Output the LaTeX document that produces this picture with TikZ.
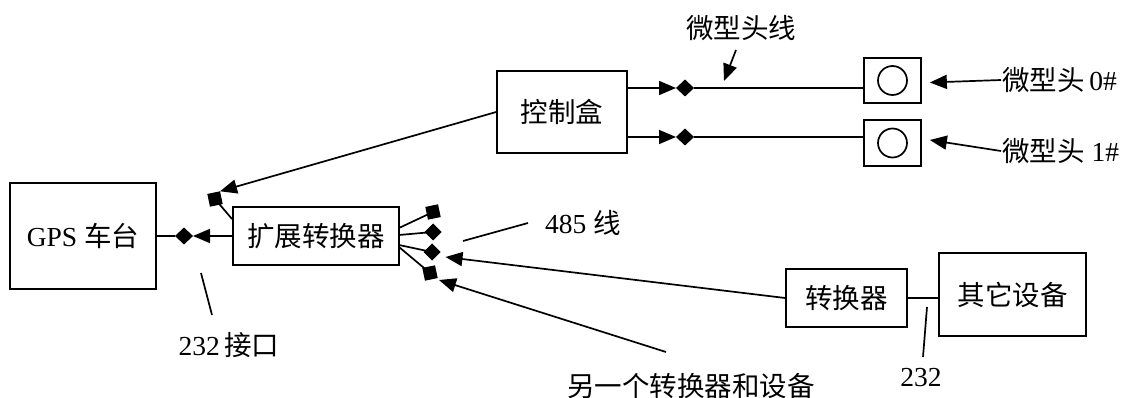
\documentclass[tikz,border=0pt]{standalone}
\usepackage{fontspec}
\setmainfont{Liberation Serif}
\newfontfamily\cjk{Noto Sans CJK SC}
\usetikzlibrary{shapes.geometric,arrows.meta,calc}

\begin{document}
\begin{tikzpicture}[x=1pt,y=-1pt,
  every node/.style={font=\fontsize{27.5}{32}\selectfont},
  box/.style={draw,line width=1.7pt,inner sep=0pt},
  ln/.style={line width=1.7pt},
  arr/.style={ln,-{Triangle[length=17pt,width=14pt]}},
  dmd/.style={diamond,fill,draw,line width=1pt,inner sep=0pt,minimum width=17pt,minimum height=16pt},
  sqr/.style={rectangle,fill,draw,line width=1pt,inner sep=0pt,minimum size=12pt,rotate=12},
  lbl/.style={inner sep=1pt}
]
\useasboundingbox (0,0) rectangle (1122,398);

% boxes
\node[box,minimum width=146pt,minimum height=106pt] (gps) at (83,236) {GPS {\cjk 车台}};
\node[box,minimum width=166pt,minimum height=58pt] (ext) at (316,236) {\cjk 扩展转换器};
\node[box,minimum width=130pt,minimum height=82pt] (ctrl) at (562,112) {\cjk 控制盒};
\node[box,minimum width=57pt,minimum height=45pt] (m0) at (892.5,80.5) {};
\node[box,minimum width=57pt,minimum height=46pt] (m1) at (892.5,143) {};
\node[draw,circle,line width=1.7pt,minimum size=29pt,inner sep=0pt] (c0) at (m0.center) {};
\node[draw,circle,line width=1.7pt,minimum size=29pt,inner sep=0pt] (c1) at (m1.center) {};
\node[box,minimum width=121pt,minimum height=58pt] (conv) at (846.5,298) {\cjk 转换器};
\node[box,minimum width=147pt,minimum height=83pt] (other) at (1012.5,294.5) {\cjk 其它设备};

% labels
\node[lbl] (lw) at (741,28) {\cjk 微型头线};
\node[lbl,anchor=west] (h0) at (1001,80) {{\cjk 微型头}\,0\#};
\node[lbl,anchor=west] (h1) at (1001,151) {{\cjk 微型头} 1\#};
\node[lbl,anchor=west] (l485) at (544,223) {485 {\cjk 线}};
\node[lbl] (l232a) at (229,345) {232\,{\cjk 接口}};
\node[lbl] (l232) at (921,378) {232};
\node[lbl] (lother) at (691,386) {\cjk 另一个转换器和设备};

% GPS <- ext
\node[dmd] (d1) at (184,236) {};
\draw[arr] (ext.west) -- (d1.east);
\draw[ln] (d1.west) -- (gps.east);

% square at ext top-left
\node[sqr] (s0) at (215,199) {};
\coordinate (e0) at ($(ext.north west)+(0,13)$);
\draw[ln] (s0.center) -- (e0);
\draw[arr] (ctrl.west) -- (s0.north east);

% control box to micro heads
\node[dmd] (dA) at (685,88) {};
\node[dmd] (dB) at (685,137) {};
\draw[arr] (ctrl.east |- dA) -- (dA.west);
\draw[ln] (dA.east) -- (m0.west |- dA);
\draw[arr] (ctrl.east |- dB) -- (dB.west);
\draw[ln] (dB.east) -- (m1.west |- dB);

% label arrows
\coordinate (wa) at (736,50);
\coordinate (wb) at (724,81);
\draw[arr] (wa) -- (wb);
\draw[arr] (h0.west) -- ($(m0.east)+(8,2)$);
\draw[arr] (h1.west) -- ($(m1.east)+(8,-3)$);

% fan from ext right
\coordinate (f1) at (399,228);
\coordinate (f2) at (399,235);
\coordinate (f3) at (399,245);
\coordinate (f4) at (399,247);
\node[sqr] (q1) at (433,212) {};
\node[dmd,minimum width=16pt,minimum height=16pt] (q2) at (433,232) {};
\node[dmd,minimum width=16pt,minimum height=16pt] (q3) at (432,252) {};
\node[sqr] (q4) at (430,273) {};
\draw[ln] (f1) -- (q1.center);
\draw[ln] (f2) -- (q2.center);
\draw[ln] (f3) -- (q3.center);
\draw[ln] (f4) -- (q4.center);

% 485 leader
\coordinate (p1) at (528,223);
\coordinate (p2) at (463,241);
\draw[ln] (p1) -- (p2);

% arrows into fan
\draw[arr] (conv.west) -- ($(q3.east)+(5,5)$);
\coordinate (ob) at (666,352);
\draw[arr] (ob) -- ($(q4.center)+(9,7)$);

% converter to other device
\draw[ln] (conv.east) -- (other.west |- conv.east);
\coordinate (t1) at (927,307);
\coordinate (t2) at (923,357);
\draw[ln] (t1) -- (t2);

% 232 interface leader
\coordinate (g1) at (201,273);
\coordinate (g2) at (212,315);
\draw[ln] (g1) -- (g2);
\end{tikzpicture}
\end{document}
